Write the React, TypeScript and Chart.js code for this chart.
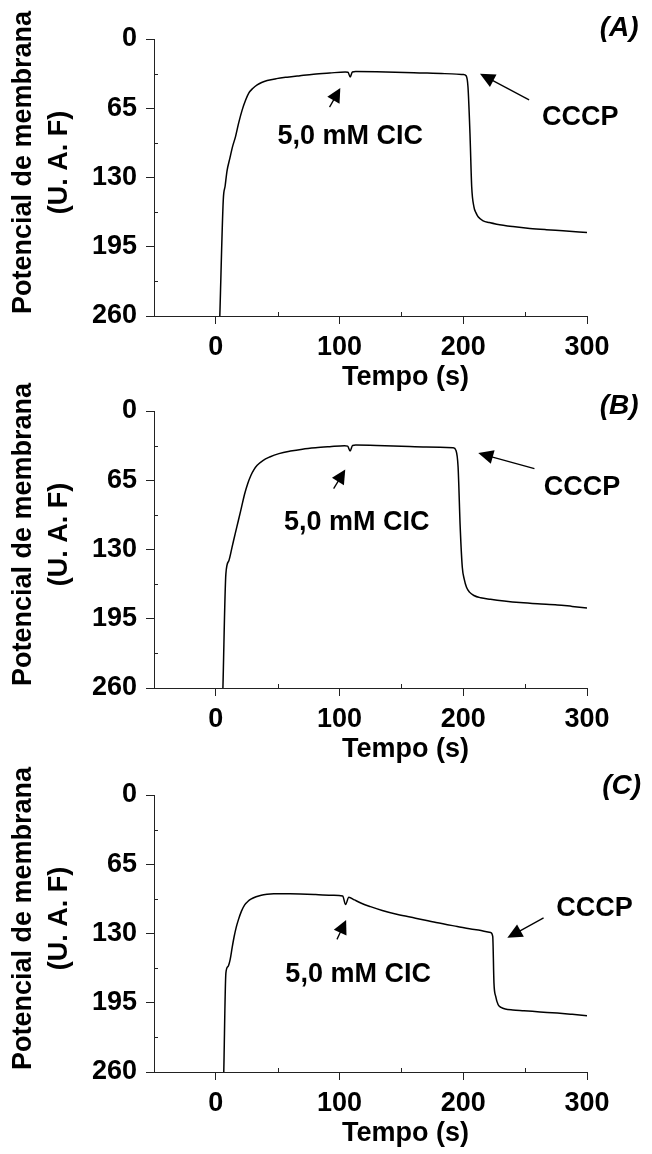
import React, { useEffect, useRef } from 'react';
import { Chart, registerables } from 'chart.js';

Chart.register(...registerables);

// ---- axis ticks ----
const xTickValues = [0, 100, 200, 300];
const yTickValues = [0, 65, 130, 195, 260];
const xMinorValues = [50, 150, 250];
const yMinorValues = [32.5, 97.5, 162.5, 227.5];

// ---- panel (A) ----
const timeA = [3.2, 6, 7.5, 9, 11.3, 13.5, 15.9, 18.5, 21.3, 24, 26.6, 30, 33.4, 37, 41.5, 49, 57.6, 68, 79, 92, 104.6, 106.8, 108.6, 110.3, 113, 130, 160, 185, 200, 202.3, 203.8, 205.4, 206.8, 208.6, 210.2, 212, 216.1, 221, 227, 240, 253.8, 267, 280.6, 300];
const potA = [260, 151, 138, 124, 112, 101, 91.6, 78.5, 66.5, 57.5, 50.8, 46.2, 43, 40.8, 39, 37.2, 35.8, 34.4, 33, 31.9, 31, 31.2, 35.7, 31, 30.6, 30.8, 31.6, 32.5, 33.3, 34.5, 45, 88.4, 138.7, 157.5, 163, 166.9, 170.7, 172.3, 173.8, 176, 177.8, 179, 180, 181.6];

// ---- panel (B) ----
const timeB = [5.7, 8.1, 10.5, 13.1, 15.6, 18.2, 20.8, 23.3, 25.8, 28.3, 30.8, 33.4, 38, 43.5, 51, 60.3, 70, 80.6, 92, 104, 106.5, 108.5, 110.5, 113, 130, 150, 170, 191.8, 194.1, 195.8, 197.5, 199.2, 200.8, 202.6, 205, 208.6, 214, 222, 233, 245.7, 260, 276, 288, 300];
const potB = [260, 152.9, 140.5, 127.8, 115.3, 102.8, 90, 77.7, 68, 60.5, 55, 51, 46.5, 43.2, 40, 37.6, 35.8, 34.5, 33.5, 32.6, 33, 37.6, 32.3, 32, 32.3, 33, 33.7, 34.5, 37, 52.6, 109, 146.6, 158, 165.4, 170, 173.2, 175.3, 176.7, 178.3, 179.8, 181, 182, 183.4, 184.8];

// ---- panel (C) ----
const timeC = [6.4, 8.1, 9.8, 11.5, 13.2, 14.8, 16.5, 18.2, 20.7, 23.3, 25.8, 28.3, 32.5, 36.7, 41.5, 46.8, 60, 80.6, 95, 102.5, 104.8, 107.5, 112, 117.6, 125, 134.5, 147, 161.4, 178, 195.1, 209, 222.1, 223.8, 224.8, 226.2, 228.2, 230.5, 233.9, 240, 249.1, 262, 276, 288, 300];
const potC = [260, 167.2, 161, 154.7, 143, 132.8, 124, 117.2, 109, 103.1, 100, 97.8, 95.5, 94, 93.2, 92.8, 92.8, 93.4, 94.2, 94.7, 102.8, 95.9, 98.5, 101.6, 104.8, 108.4, 112.2, 115.6, 119.7, 123.4, 126.3, 129, 132.8, 176.6, 189, 196.9, 199.3, 200.9, 201.8, 202.5, 203.6, 204.7, 205.9, 207.2];

// ---- texts ----
const panelLabels = ['(A)', '(B)', '(C)'];
const clcText = '5,0 mM CIC';
const ccText = 'CCCP';
const xTitle = 'Tempo (s)';
const yTitleLines = ['Potencial de membrana', '(U. A. F)'];

const FONT = "'Liberation Sans', Arial, Helvetica, sans-serif";
const FS = 27;

type Pt = [number, number];
type Notes = {
  clcTip: Pt; clcTail: Pt; clcPos: Pt;
  ccTip: Pt; ccTail: Pt; ccPos: Pt;
  labelPos: Pt;
};
type Panel = { time: number[]; pot: number[]; label: string; plotTop: number; notes: Notes };

const panels: Panel[] = [
  {
    time: timeA, pot: potA, label: panelLabels[0], plotTop: 39,
    notes: {
      clcTip: [100.6, 46.1], clcTail: [91.9, 64], clcPos: [108.6, 91.4],
      ccTip: [213.5, 32.6], ccTail: [253.2, 57.1], ccPos: [294.5, 73.6],
      labelPos: [326, -10],
    },
  },
  {
    time: timeB, pot: potB, label: panelLabels[1], plotTop: 411,
    notes: {
      clcTip: [104.6, 55], clcTail: [95.2, 72.8], clcPos: [113.8, 104.5],
      ccTip: [212.1, 39.5], ccTail: [257.5, 54.2], ccPos: [296, 71.4],
      labelPos: [326, -4],
    },
  },
  {
    time: timeC, pot: potC, label: panelLabels[2], plotTop: 795,
    notes: {
      clcTip: [105.3, 117.3], clcTail: [97.9, 135.5], clcPos: [115, 168.4],
      ccTip: [235.6, 134.1], ccTail: [264.9, 115.3], ccPos: [306, 106.2],
      labelPos: [328, -8],
    },
  },
];

const CANVAS_W = 652;
const CANVAS_H = 398;
const PAD_TOP = 39;

function drawArrow(ctx: CanvasRenderingContext2D, tail: Pt, tip: Pt, hl: number, hw: number) {
  const dx = tip[0] - tail[0];
  const dy = tip[1] - tail[1];
  const len = Math.hypot(dx, dy) || 1;
  const ux = dx / len, uy = dy / len;
  const px = -uy, py = ux;
  const bx = tip[0] - ux * hl, by = tip[1] - uy * hl;
  ctx.beginPath();
  ctx.moveTo(tail[0], tail[1]);
  ctx.lineTo(bx + ux * 2, by + uy * 2);
  ctx.stroke();
  ctx.beginPath();
  ctx.moveTo(tip[0], tip[1]);
  ctx.lineTo(bx + px * hw, by + py * hw);
  ctx.lineTo(bx - px * hw, by - py * hw);
  ctx.closePath();
  ctx.fill();
}

function makePlugin(panel: Panel) {
  return {
    id: 'panelDecor',
    afterDraw(chart: any) {
      const ctx: CanvasRenderingContext2D = chart.ctx;
      const xs = chart.scales.x;
      const ys = chart.scales.y;
      const area = chart.chartArea;
      const P = (p: Pt): Pt => [xs.getPixelForValue(p[0]), ys.getPixelForValue(p[1])];
      ctx.save();
      ctx.strokeStyle = '#222';
      ctx.lineWidth = 1;
      // minor ticks (inward)
      ctx.beginPath();
      yMinorValues.forEach((v) => {
        const y = Math.round(ys.getPixelForValue(v)) + 0.5;
        ctx.moveTo(area.left, y);
        ctx.lineTo(area.left + 4, y);
      });
      xMinorValues.forEach((v) => {
        const x = Math.round(xs.getPixelForValue(v)) + 0.5;
        ctx.moveTo(x, area.bottom);
        ctx.lineTo(x, area.bottom - 4);
      });
      ctx.stroke();

      // arrows
      ctx.strokeStyle = '#000';
      ctx.fillStyle = '#000';
      ctx.lineWidth = 1.3;
      const n = panel.notes;
      drawArrow(ctx, P(n.clcTail), P(n.clcTip), 14, 7);
      drawArrow(ctx, P(n.ccTail), P(n.ccTip), 15, 7);

      // annotation texts
      ctx.textAlign = 'center';
      ctx.textBaseline = 'middle';
      ctx.font = `bold ${FS}px ${FONT}`;
      const c1 = P(n.clcPos);
      ctx.fillText(clcText, c1[0], c1[1]);
      const c2 = P(n.ccPos);
      ctx.fillText(ccText, c2[0], c2[1]);
      ctx.font = `italic bold ${FS + 1}px ${FONT}`;
      const c3 = P(n.labelPos);
      ctx.fillText(panel.label, c3[0], c3[1]);

      // axis titles
      ctx.font = `bold ${FS}px ${FONT}`;
      const tx = (xs.getPixelForValue(0) + xs.getPixelForValue(300)) / 2 + 4;
      ctx.fillText(xTitle, tx, area.bottom + 62);
      const yc = (area.top + area.bottom) / 2 - 15;
      const lineX = [24, 60];
      yTitleLines.forEach((t, i) => {
        ctx.save();
        ctx.translate(lineX[i], yc);
        ctx.rotate(-Math.PI / 2);
        ctx.fillText(t, 0, 0);
        ctx.restore();
      });
      ctx.restore();
    },
  };
}

function PanelChart({ panel }: { panel: Panel }) {
  const ref = useRef<HTMLCanvasElement>(null);
  useEffect(() => {
    if (!ref.current) return;
    const data = panel.time.map((t, i) => ({ x: t, y: panel.pot[i] }));
    const tickFont = { family: FONT, size: FS, weight: 'bold' as const };
    const chart = new Chart(ref.current, {
      type: 'line',
      data: {
        datasets: [
          {
            data,
            borderColor: '#000',
            borderWidth: 1.5,
            pointRadius: 0,
            fill: false,
            cubicInterpolationMode: 'monotone',
          },
        ],
      },
      options: {
        animation: false,
        responsive: false,
        devicePixelRatio: 1,
        layout: { padding: { top: PAD_TOP, right: 65, left: 0, bottom: 0 } },
        plugins: { legend: { display: false }, tooltip: { enabled: false }, title: { display: false } },
        scales: {
          x: {
            type: 'linear',
            position: 'bottom',
            min: -50,
            max: 300,
            afterBuildTicks: (s: any) => { s.ticks = xTickValues.map((v) => ({ value: v })); },
            afterFit: (s: any) => { s.height = CANVAS_H - PAD_TOP - 277; },
            grid: { display: true, drawOnChartArea: false, drawTicks: true, tickLength: 8, color: '#222', lineWidth: 1 },
            border: { display: true, color: '#222', width: 1 },
            ticks: { color: '#000', font: tickFont, padding: 7, maxRotation: 0, autoSkip: false, callback: (v: any) => String(v) },
            title: { display: false },
          },
          y: {
            type: 'linear',
            reverse: true,
            min: 0,
            max: 260,
            afterBuildTicks: (s: any) => { s.ticks = yTickValues.map((v) => ({ value: v })); },
            afterFit: (s: any) => { s.width = 154; },
            grid: { display: true, drawOnChartArea: false, drawTicks: true, tickLength: 8, color: '#222', lineWidth: 1 },
            border: { display: true, color: '#222', width: 1 },
            ticks: { color: '#000', font: tickFont, padding: 9, autoSkip: false, callback: (v: any) => String(v) },
            title: { display: false },
          },
        },
      },
      plugins: [makePlugin(panel)],
    } as any);
    return () => chart.destroy();
  }, [panel]);
  return (
    <canvas
      ref={ref}
      width={CANVAS_W}
      height={CANVAS_H}
      style={{ position: 'absolute', left: 0, top: panel.plotTop - PAD_TOP, width: CANVAS_W, height: CANVAS_H }}
    />
  );
}

export default function App() {
  return (
    <div style={{ position: 'absolute', left: 0, top: 0, width: 652, height: 1154, background: '#fff', overflow: 'hidden' }}>
      {panels.map((p) => (
        <PanelChart key={p.label} panel={p} />
      ))}
    </div>
  );
}
